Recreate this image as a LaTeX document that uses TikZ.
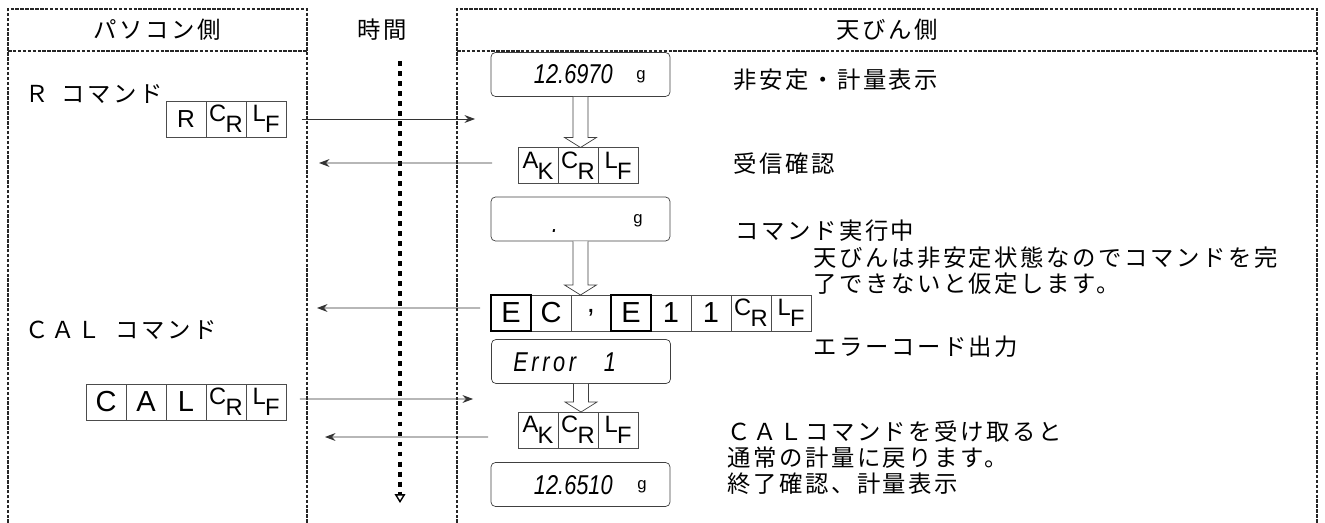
\documentclass[tikz,border=0pt]{standalone}
\usepackage{fontspec}
\usetikzlibrary{arrows.meta,calc}
\newfontfamily\jp{Noto Sans CJK JP}[LetterSpace=11]
\newfontfamily\cellfont{Liberation Sans}
\newfontfamily\segfont{Liberation Sans}
% letter with a lowered second letter, as in C_R, L_F, A_K
\newcommand{\twolet}[2]{{\fontsize{13.5}{13.5}\selectfont\raisebox{0.16em}{#1}\kern-0.03em\raisebox{-0.3em}{#2}}}
% open arrow from a display down to the next box
\newcommand{\hollowdown}[2]{%
  \draw[draw=black!75, fill=white] ($(#1.south)+(-7.5,0)$) -- ($(#1.south |- #2.north)+(-7.5,-10)$)
    -- ++(-8.5,0) -- ($(#1.south |- #2.north)$) -- ++(16,-10) -- ++(-8.5,0)
    -- ($(#1.south)+(7.5,0)$);}

\begin{document}
\begin{tikzpicture}[x=0.02cm, y=-0.02cm,
  lane/.style={dash pattern=on 2pt off 0.8pt, line width=0.8pt, draw=black!85},
  head/.style={font=\jp\fontsize{13.3}{16}\selectfont},
  note/.style={anchor=west, inner sep=0pt, font=\jp\fontsize{13.3}{16}\selectfont},
  cell/.style={draw=black!70, minimum width=0.8cm, minimum height=0.72cm, inner sep=0pt, outer sep=0pt,
    font=\cellfont\fontsize{16.5}{16.5}\selectfont},
  disp/.style={draw=black!75, rounded corners=2.5pt, minimum width=3.58cm, minimum height=0.88cm, inner sep=0pt},
  seg/.style={inner sep=0pt, xscale=0.8, font=\segfont\itshape\fontsize{15.5}{15.5}\selectfont},
  gram/.style={inner sep=0pt, font=\segfont\fontsize{9.5}{9.5}\selectfont},
  msg/.style={draw=black!80, line width=0.5pt, -{Stealth[length=6pt,width=4.5pt,inset=2pt]}},
  timeline/.style={line width=2.8pt, dash pattern=on 2.8pt off 2.9pt,
    -{Triangle[open,length=5pt,width=6pt,line width=0.8pt]}}]
  \useasboundingbox (0,0) rectangle (1325,523);
  % lanes
  \draw[lane] (8,523) -- (8,9) -- (307,9) -- (307,523);
  \draw[lane] (8,51) -- (307,51);
  \draw[lane] (457,523) -- (457,9) -- (1317,9) -- (1317,523);
  \draw[lane] (457,51) -- (1317,51);
  \node[head] (hpc) at (157,30) {パソコン側};
  \node[head] (htime) at (382,30) {時間};
  \node[head] (hbal) at (887,30) {天びん側};
  % time axis
  \coordinate (ttop) at (400,61);
  \coordinate (tend) at (400,503);
  \draw[timeline] (ttop) -- (tend);
  % PC side
  \node[note] (rlab) at (25,94) {Ｒ\hspace{0.25cm}コマンド};
  \foreach \t [count=\i] in {{\fontsize{14}{14}\selectfont R},\twolet{C}{R},\twolet{L}{F}}
    \node[cell] (rcmd\i) at ({146+40*\i},119) {\t};
  \node[note] (callab) at (25,330) {ＣＡＬ\hspace{0.3cm}コマンド};
  \foreach \t [count=\i] in {C,A,L,\twolet{C}{R},\twolet{L}{F}}
    \node[cell] (cal\i) at ({66+40*\i},402) {\t};
  % balance side: displays
  \node[disp] (disp1) at (580.5,74.5) {};
  \node[seg, anchor=east] (d1val) at (613,74) {12.6970};
  \node[gram] (d1g) at (641,77) {g};
  \node[disp] (disp2) at (580.5,219) {};
  \node[seg] (d2dot) at (555,231) {.};
  \node[gram] (d2g) at (638,221) {g};
  \node[disp] (disp3) at (581,361.5) {};
  \node[seg, anchor=west] (d3err) at (513,362) {E\,r\,r\,o\,r};
  \node[seg] (d3one) at (610,362) {1};
  \node[disp] (disp4) at (580.5,484.5) {};
  \node[seg, anchor=east] (d4val) at (613,485) {12.6510};
  \node[gram] (d4g) at (642,487) {g};
  % balance side: replies
  \foreach \t [count=\i] in {\twolet{A}{K},\twolet{C}{R},\twolet{L}{F}}
    \node[cell] (akA\i) at ({498+40*\i},165.5) {\t};
  \foreach \t [count=\i] in {E,C,{,},E,1,1,\twolet{C}{R},\twolet{L}{F}}
    \node[cell] (ec\i) at ({471+40*\i},313) {\t};
  \draw[line width=0.9pt] (ec1.south west) rectangle (ec1.north east);
  \draw[line width=0.9pt] (ec4.south west) rectangle (ec4.north east);
  \foreach \t [count=\i] in {\twolet{A}{K},\twolet{C}{R},\twolet{L}{F}}
    \node[cell] (akB\i) at ({498+40*\i},430) {\t};
  \hollowdown{disp1}{akA2}
  \hollowdown{disp2}{ec3}
  \hollowdown{disp3}{akB2}
  % messages
  \coordinate (rin) at (475,119);
  \coordinate (akAout) at (319,163);
  \coordinate (ecout) at (317,308);
  \coordinate (calin) at (473,399);
  \coordinate (akBout) at (325,437);
  \draw[msg] ([xshift=0.32cm]rcmd3.east) -- (rin);
  \draw[msg] ([xshift=-0.52cm,yshift=0.05cm]akA1.west) -- (akAout);
  \draw[msg] ([xshift=-0.22cm,yshift=0.1cm]ec1.west) -- (ecout);
  \draw[msg] ([xshift=0.28cm,yshift=0.06cm]cal5.east) -- (calin);
  \draw[msg] ([xshift=-0.6cm,yshift=-0.14cm]akB1.west) -- (akBout);
  % notes
  \node[note] (n1) at (733,80) {非安定・計量表示};
  \node[note] (n2) at (733,164) {受信確認};
  \node[note] (n3) at (735,231) {コマンド実行中};
  \node[note] (n4) at (813,258) {天びんは非安定状態なのでコマンドを完};
  \node[note] (n5) at (813,284) {了できないと仮定します。};
  \node[note] (n6) at (813,347) {エラーコード出力};
  \node[note] (n7) at (727,432) {ＣＡＬコマンドを受け取ると};
  \node[note] (n8) at (727,458) {通常の計量に戻ります。};
  \node[note] (n9) at (727,484) {終了確認、計量表示};
\end{tikzpicture}
\end{document}
